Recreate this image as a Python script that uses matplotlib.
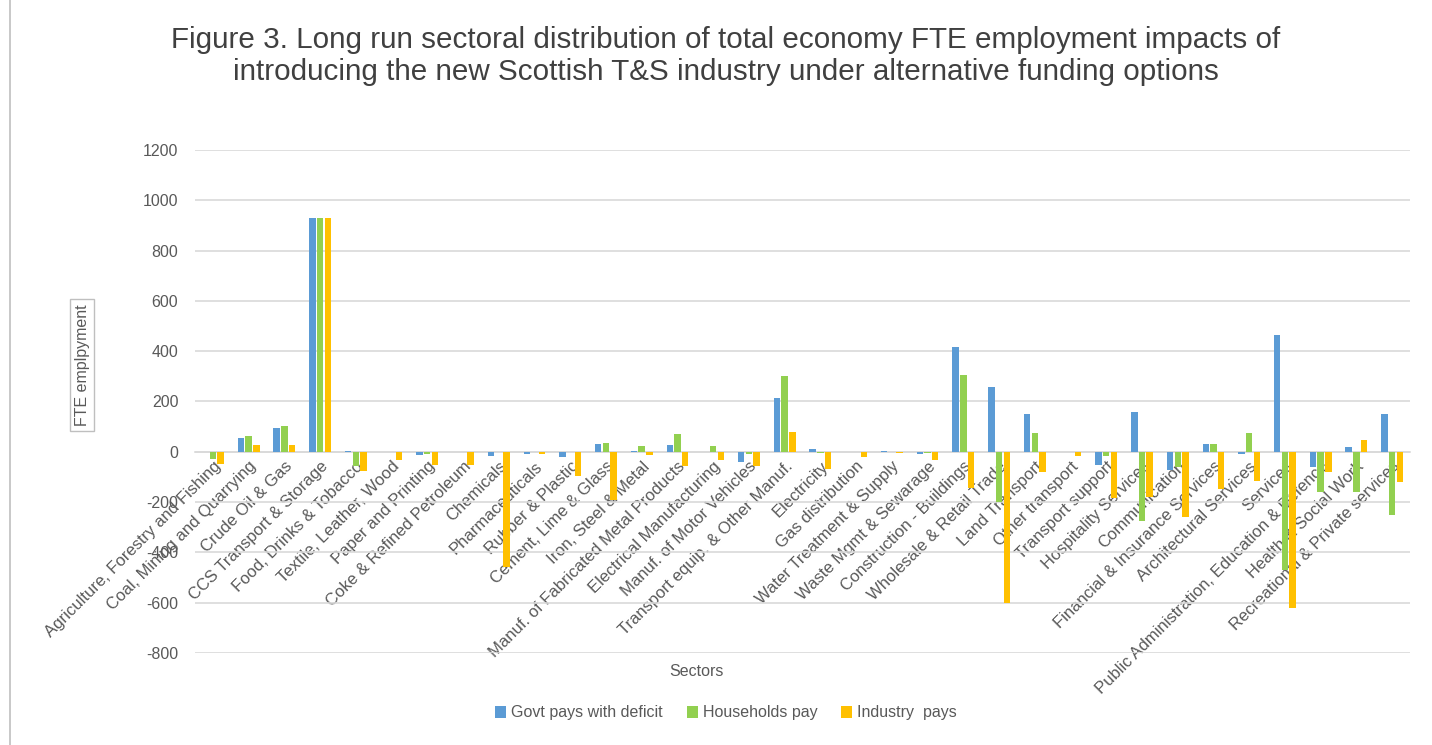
import numpy as np
import matplotlib
matplotlib.use("Agg")
from matplotlib import pyplot as plt
from matplotlib.lines import Line2D

sectors = [
    "Agriculture, Forestry and Fishing", "Coal, Mining and Quarrying", "Crude Oil & Gas",
    "CCS Transport & Storage", "Food, Drinks & Tobacco", "Textile, Leather, Wood",
    "Paper and Printing", "Coke & Refined Petroleum", "Chemicals", "Pharmaceuticals",
    "Rubber & Plastic", "Cement, Lime & Glass", "Iron, Steel & Metal",
    "Manuf. of Fabricated Metal Products", "Electrical Manufacturing",
    "Manuf. of Motor Vehicles", "Transport equip. & Other Manuf.", "Electricity",
    "Gas distribution", "Water Treatment & Supply", "Waste Mgmt & Sewarage",
    "Construction - Buildings", "Wholesale & Retail Trade", "Land Transport",
    "Other transport", "Transport support", "Hospitality Services", "Communication",
    "Financial & Insurance Services", "Architectural Services", "Services",
    "Public Administration, Education & Defence", "Health & Social Work",
    "Recreational & Private services",
]

govt = [0, 56, 96, 930, 3, 0, -12, 0, -15, -7,
        -20, 32, 3, 27, 0, -40, 212, 12, 0, 5,
        -7, 417, 256, 149, 0, -52, 157, -73, 32, -7,
        465, -59, 19, 151]
households = [-27, 63, 104, 930, -56, 0, -8, 0, 0, 0,
              0, 35, 23, 71, 23, -8, 300, -4, 0, 0,
              -4, 307, -199, 73, 0, -16, -277, -60, 32, 76,
              -468, -161, -159, -252]
industry = [-47, 29, 29, 930, -76, -33, -53, -53, -460, -7,
            -96, -192, -11, -56, -31, -56, 79, -67, -20, -5,
            -31, -145, -603, -81, -16, -184, -180, -261, -149, -117,
            -620, -81, 48, -119]

series_names = ["Govt pays with deficit", "Households pay", "Industry  pays"]
colors = ["#5B9BD5", "#92D050", "#FFC000"]

plt.rcParams['font.family'] = ['Liberation Sans', 'DejaVu Sans']
plt.rcParams['axes.unicode_minus'] = False
grey = "#595959"

fig = plt.figure(figsize=(14.32, 7.45), dpi=100)
ax = fig.add_axes([195 / 1432, 1 - 653 / 745, 1215 / 1432, 503 / 745])

x = np.arange(len(sectors))
w = 0.18
step = 0.215
for k, (vals, name, c) in enumerate(zip([govt, households, industry], series_names, colors)):
    ax.bar(x + (k - 1) * step, vals, w, color=c, label=name, zorder=3)

ax.set_xlim(-0.5, len(sectors) - 0.5)
ax.set_ylim(-800, 1200)
ax.set_yticks(np.arange(-800, 1201, 200))
ax.yaxis.grid(True, color="#D9D9D9", linewidth=1.2, zorder=0)
ax.set_axisbelow(True)
for s in ["top", "right", "left"]:
    ax.spines[s].set_visible(False)
ax.spines["bottom"].set_position(("data", 0))
ax.spines["bottom"].set_color("#D9D9D9")
ax.spines["bottom"].set_linewidth(1.2)
ax.tick_params(axis="both", length=0, colors=grey, labelsize=11.5)
ax.tick_params(axis="y", pad=12)

ax.set_xticks(x)
ax.set_xticklabels(sectors, rotation=45, ha="right", va="top",
                   rotation_mode="anchor", fontsize=12, color=grey)
ax.tick_params(axis="x", pad=5)

fig.text(696 / 1432, 1 - 672 / 745, "Sectors", ha="center", va="center",
         fontsize=11.5, color=grey)
fig.text(82 / 1432, 1 - 365 / 745, "FTE emplpyment", ha="center", va="center",
         rotation=90, fontsize=11.5, color=grey,
         bbox=dict(boxstyle="square,pad=0.3", fc="white", ec="#BFBFBF", lw=1))

fig.text(726 / 1432, 1 - 40 / 745, "Figure 3. Long run sectoral distribution of total economy FTE employment impacts of",
         ha="center", va="center", fontsize=21.3, color="#404040")
fig.text(726 / 1432, 1 - 72 / 745, "introducing the new Scottish T&S industry under alternative funding options",
         ha="center", va="center", fontsize=21.3, color="#404040")

fig.legend(loc="center", bbox_to_anchor=(726 / 1432, 1 - 713 / 745), ncol=3,
           frameon=False, fontsize=11.5, handlelength=0.7, handleheight=0.7,
           handletextpad=0.3, columnspacing=1.5, labelcolor=grey)

# left edge of the chart frame
fig.lines.append(Line2D([10 / 1432, 10 / 1432], [0, 1], transform=fig.transFigure,
                        color="#BFBFBF", lw=1.2))

plt.savefig("out.png", dpi=100)
plt.close("all")
